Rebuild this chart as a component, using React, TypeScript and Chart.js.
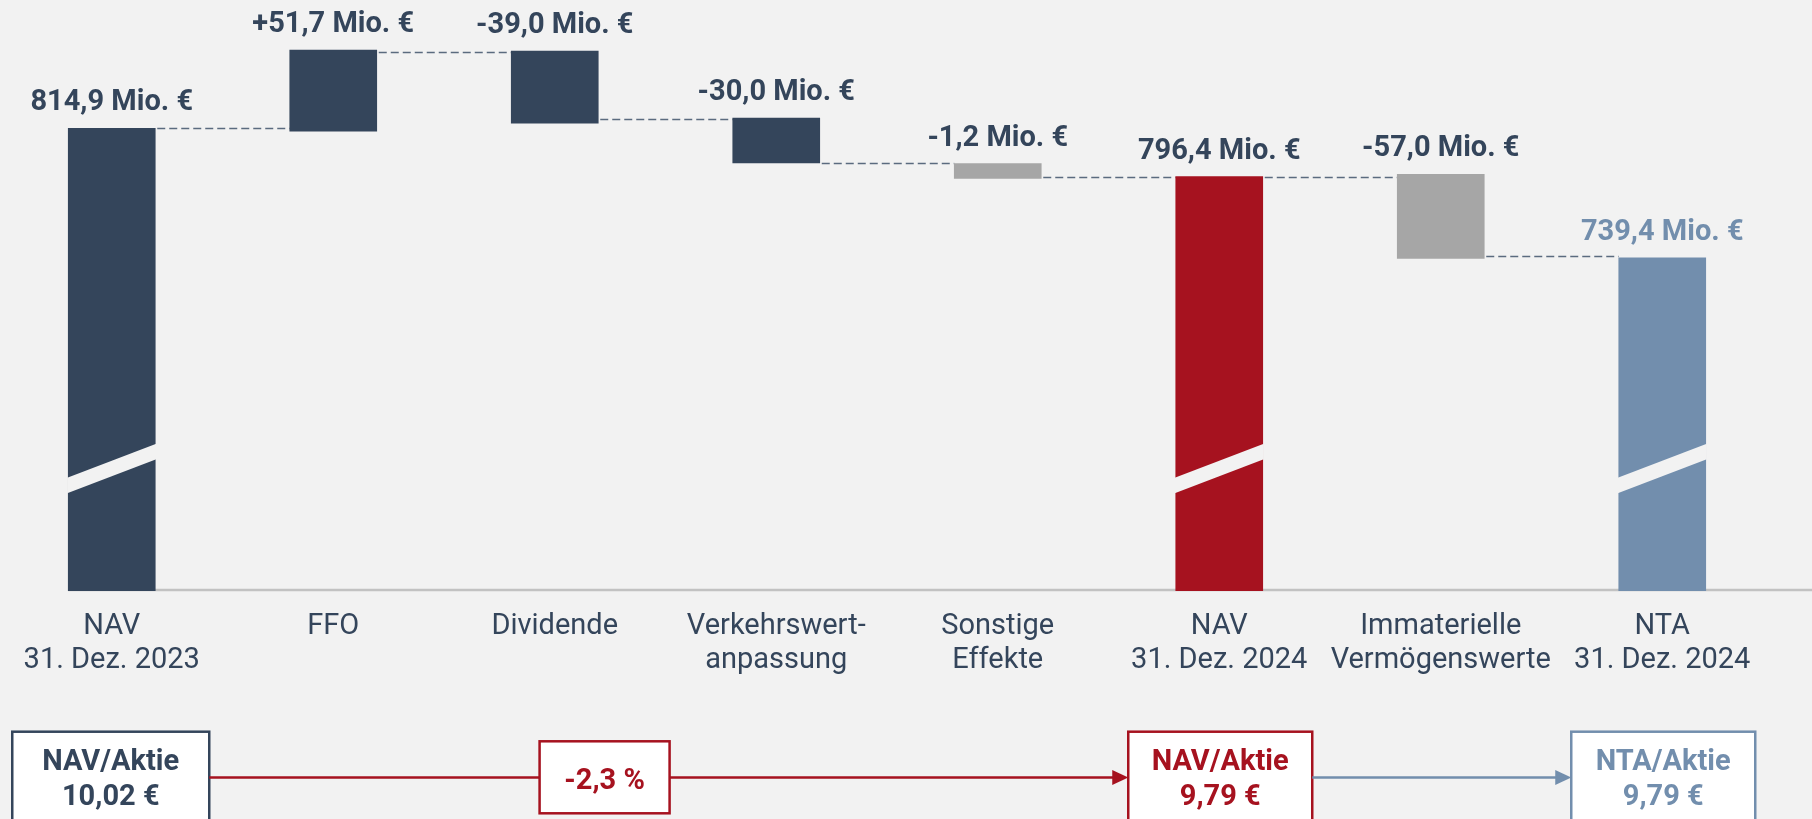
import React, { useEffect, useRef } from "react";
import { Chart, registerables } from "chart.js";

Chart.register(...registerables);

// ---------- data ----------
const categories: (string | string[])[] = [
  ["NAV", "31. Dez. 2023"],
  "FFO",
  "Dividende",
  ["Verkehrswert-", "anpassung"],
  ["Sonstige", "Effekte"],
  ["NAV", "31. Dez. 2024"],
  ["Immaterielle", "Vermögenswerte"],
  ["NTA", "31. Dez. 2024"],
];
// printed amounts in Mio. €
const amounts = [814.9, 51.7, -39.0, -30.0, -1.2, 796.4, -57.0, 739.4];
const kinds = ["total", "delta", "delta", "delta", "delta", "total", "delta", "total"];
// drawn extents of the bars as they appear (the chart is not to scale, axis broken)
const barLow = [0, 810, 824, 754, 727, 0, 586, 0];
const barHigh = [814.9, 953, 951, 833, 753, 730, 734, 587];
// levels of the dashed connectors between neighbouring bars
const connectorLevels = [814.9, 950, 831, 754, 729, 730, 590];
const brokenBars = [true, false, false, false, false, true, false, true];
// per share figures
const navPerShareStart = 10.02;
const navPerShareEnd = 9.79;
const ntaPerShareEnd = 9.79;
const navPerShareChangePct = -2.3;

// ---------- styles ----------
const NAVY = "#34455B";
const RED = "#A6121F";
const BLUE = "#728EAD";
const GRAY = "#A6A6A6";
const BG = "#F2F2F2";
const barColors = [NAVY, NAVY, NAVY, NAVY, GRAY, RED, GRAY, BLUE];
const labelColors = [NAVY, NAVY, NAVY, NAVY, NAVY, NAVY, NAVY, BLUE];
const BAR_W = 87;
const FONT = "Roboto, 'Noto Sans', sans-serif";

const de = (v: number, d = 1) => v.toFixed(d).replace(".", ",");
const fmtAmount = (v: number, kind: string) =>
  (kind === "delta" && v > 0 ? "+" : "") + de(v) + " Mio. €";

const wfPlugin = {
  id: "wf",
  beforeDatasetsDraw(chart: any) {
    const ctx = chart.ctx;
    const xs = chart.scales.x;
    const ys = chart.scales.y;
    const y0 = ys.getPixelForValue(0);
    ctx.save();
    // base line
    ctx.strokeStyle = "#C2C2C2";
    ctx.lineWidth = 2.5;
    ctx.beginPath();
    ctx.moveTo(xs.getPixelForValue(0) - BAR_W / 2, y0 - 1);
    ctx.lineTo(chart.width, y0 - 1);
    ctx.stroke();
    // connectors
    ctx.setLineDash([8, 4]);
    ctx.lineWidth = 1.6;
    ctx.strokeStyle = "#5B6B7F";
    connectorLevels.forEach((lv, i) => {
      const yy = Math.round(ys.getPixelForValue(lv)) + 0.5;
      ctx.beginPath();
      ctx.moveTo(xs.getPixelForValue(i) + BAR_W / 2 + 2, yy);
      ctx.lineTo(xs.getPixelForValue(i + 1) - BAR_W / 2, yy);
      ctx.stroke();
    });
    ctx.restore();
  },
  afterDatasetsDraw(chart: any) {
    const ctx = chart.ctx;
    const xs = chart.scales.x;
    const ys = chart.scales.y;
    ctx.save();
    // axis breaks
    const breakCenter = ys.getPixelForValue(216);
    brokenBars.forEach((b, i) => {
      if (!b) return;
      const cx = xs.getPixelForValue(i);
      const l = cx - BAR_W / 2 - 1;
      const r = cx + BAR_W / 2 + 1;
      const rise = 17;
      const th = 15.5;
      ctx.fillStyle = BG;
      ctx.beginPath();
      ctx.moveTo(l, breakCenter + rise - th / 2);
      ctx.lineTo(r, breakCenter - rise - th / 2);
      ctx.lineTo(r, breakCenter - rise + th / 2);
      ctx.lineTo(l, breakCenter + rise + th / 2);
      ctx.closePath();
      ctx.fill();
    });
    // value labels
    ctx.font = `bold 29px ${FONT}`;
    ctx.textAlign = "center";
    ctx.textBaseline = "alphabetic";
    amounts.forEach((v, i) => {
      const top = ys.getPixelForValue(barHigh[i]);
      ctx.fillStyle = labelColors[i];
      ctx.fillText(fmtAmount(v, kinds[i]), xs.getPixelForValue(i), top - 18);
    });

    // ---------- per share boxes ----------
    const boxTop = 731.7;
    const lineY = 777.5;
    const box = (cx: number, w: number, col: string, l1: string, l2: string) => {
      const x = cx - w / 2;
      ctx.fillStyle = "#FFFFFF";
      ctx.fillRect(x, boxTop, w, 120);
      ctx.strokeStyle = col;
      ctx.lineWidth = 2.5;
      ctx.strokeRect(x, boxTop, w, 120);
      ctx.fillStyle = col;
      ctx.font = `bold 29px ${FONT}`;
      ctx.textAlign = "center";
      ctx.fillText(l1, cx, boxTop + 38.5);
      ctx.fillText(l2, cx, boxTop + 73.5);
      return [x, x + w];
    };
    const arrowLine = (x0: number, x1: number, col: string, head: boolean) => {
      ctx.strokeStyle = col;
      ctx.lineWidth = 2.5;
      ctx.beginPath();
      ctx.moveTo(x0, lineY);
      ctx.lineTo(head ? x1 - 12 : x1, lineY);
      ctx.stroke();
      if (head) {
        ctx.fillStyle = col;
        ctx.beginPath();
        ctx.moveTo(x1, lineY);
        ctx.lineTo(x1 - 16, lineY - 7.5);
        ctx.lineTo(x1 - 16, lineY + 7.5);
        ctx.closePath();
        ctx.fill();
      }
    };
    const b1 = box(xs.getPixelForValue(0) - 1, 197, NAVY, "NAV/Aktie", de(navPerShareStart, 2) + " €");
    const b2 = box(xs.getPixelForValue(5) + 1, 184, RED, "NAV/Aktie", de(navPerShareEnd, 2) + " €");
    const b3 = box(xs.getPixelForValue(7) + 1, 184, BLUE, "NTA/Aktie", de(ntaPerShareEnd, 2) + " €");
    // change box
    const ccx = xs.getPixelForValue(2.225);
    const cw = 130;
    const cTop = 741.3;
    const cH = 72;
    arrowLine(b1[1], ccx - cw / 2, RED, false);
    arrowLine(ccx + cw / 2, b2[0], RED, true);
    arrowLine(b2[1], b3[0], BLUE, true);
    ctx.fillStyle = "#FFFFFF";
    ctx.fillRect(ccx - cw / 2, cTop, cw, cH);
    ctx.strokeStyle = RED;
    ctx.lineWidth = 2.5;
    ctx.strokeRect(ccx - cw / 2, cTop, cw, cH);
    ctx.fillStyle = RED;
    ctx.font = `bold 29px ${FONT}`;
    ctx.textAlign = "center";
    ctx.fillText(de(navPerShareChangePct) + " %", ccx, 789);
    ctx.restore();
  },
};

export default function App() {
  const ref = useRef<HTMLCanvasElement>(null);
  useEffect(() => {
    document.body.style.margin = "0";
    const chart = new Chart(ref.current as HTMLCanvasElement, {
      type: "bar",
      data: {
        labels: categories,
        datasets: [
          {
            data: barLow.map((l, i) => [l, barHigh[i]]) as any,
            backgroundColor: barColors,
            borderWidth: 0,
            barThickness: BAR_W,
          },
        ],
      },
      options: {
        responsive: false,
        animation: false,
        layout: { padding: { left: 1, right: 39, top: 0, bottom: 122 } },
        plugins: { legend: { display: false }, tooltip: { enabled: false } },
        scales: {
          x: {
            grid: { display: false, drawTicks: false },
            border: { display: false },
            ticks: {
              color: NAVY,
              padding: 19,
              autoSkip: false,
              maxRotation: 0,
              font: { family: FONT, size: 29, lineHeight: "34px" as any },
            },
          },
          y: { display: false, min: 0, max: 1041.2 },
        },
      },
      plugins: [wfPlugin],
    });
    return () => chart.destroy();
  }, []);
  return (
    <div
      style={{
        position: "absolute",
        left: 0,
        top: 0,
        width: 1812,
        height: 819,
        background: BG,
        overflow: "hidden",
      }}
    >
      <canvas ref={ref} width={1812} height={819} style={{ display: "block", width: 1812, height: 819 }} />
    </div>
  );
}
